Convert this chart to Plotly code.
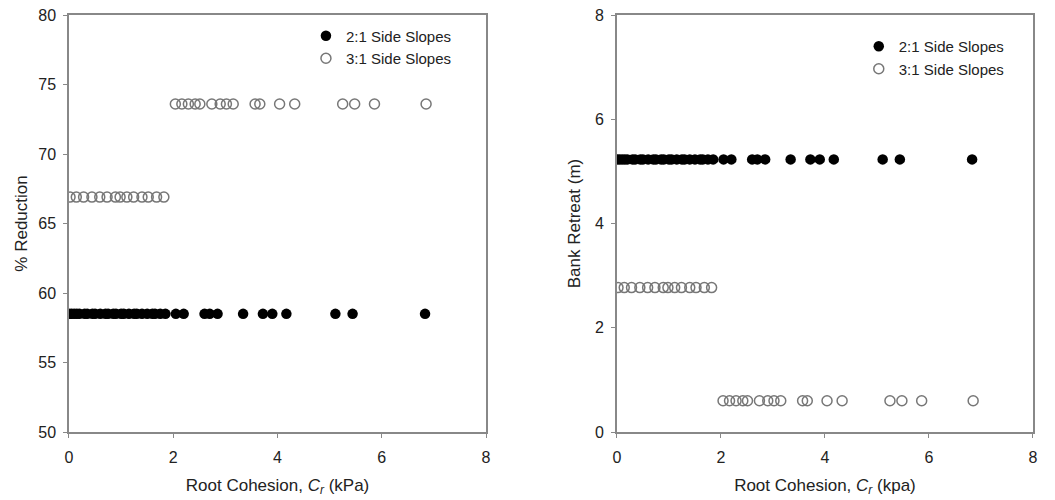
import plotly.graph_objects as go

# Root cohesion values (kPa) for each scenario run
cr_21 = [0, 0.05, 0.1, 0.15, 0.2, 0.3, 0.35, 0.45, 0.5, 0.6, 0.7, 0.75, 0.85,
         0.9, 1.0, 1.05, 1.15, 1.25, 1.3, 1.4, 1.5, 1.6, 1.65, 1.75, 1.85,
         2.05, 2.2, 2.6, 2.7, 2.85, 3.34, 3.72, 3.9, 4.17, 5.11, 5.44, 6.83]
cr_31 = [0.02, 0.14, 0.28, 0.44, 0.59, 0.73, 0.89, 0.98, 1.11, 1.24, 1.40,
         1.52, 1.68, 1.82,
         2.04, 2.165, 2.29, 2.42, 2.51, 2.74, 2.9, 3.02, 3.15, 3.57, 3.66,
         4.04, 4.33, 5.25, 5.48, 5.86, 6.85]

# % reduction in bank retreat
red_21 = [58.5] * len(cr_21)
red_31 = [66.9 if c < 1.95 else 73.6 for c in cr_31]

# Bank retreat (m)
ret_21 = [5.23] * len(cr_21)
ret_31 = [2.77 if c < 1.95 else 0.6 for c in cr_31]

x_ticks = [0, 2, 4, 6, 8]
y_ticks_red = [50, 55, 60, 65, 70, 75, 80]
y_ticks_ret = [0, 2, 4, 6, 8]

FONT = "Liberation Sans, Arial, sans-serif"
filled = dict(symbol="circle", size=10.5, color="black", line=dict(width=0))
hollow = dict(symbol="circle-open", size=10, color="#777777", line=dict(width=1.5))

fig = go.Figure()
fig.add_trace(go.Scatter(x=cr_21, y=red_21, mode="markers", marker=filled,
                         name="2:1 Side Slopes", xaxis="x", yaxis="y", legend="legend"))
fig.add_trace(go.Scatter(x=cr_31, y=red_31, mode="markers", marker=hollow,
                         name="3:1 Side Slopes", xaxis="x", yaxis="y", legend="legend"))
fig.add_trace(go.Scatter(x=cr_21, y=ret_21, mode="markers", marker=filled,
                         name="2:1 Side Slopes", xaxis="x2", yaxis="y2", legend="legend2"))
fig.add_trace(go.Scatter(x=cr_31, y=ret_31, mode="markers", marker=hollow,
                         name="3:1 Side Slopes", xaxis="x2", yaxis="y2", legend="legend2"))

axis_common = dict(showline=True, linecolor="#888888", linewidth=1.5, mirror=True,
                   ticks="outside", ticklen=4, tickcolor="#888888", showgrid=False,
                   zeroline=False, automargin=False,
                   tickfont=dict(family=FONT, size=16, color="#222222"))
title_font = dict(family=FONT, size=17, color="#222222")

fig.update_layout(
    width=1055, height=500, margin=dict(l=0, r=0, t=0, b=0),
    paper_bgcolor="white", plot_bgcolor="white",
    xaxis=dict(domain=[0.0654, 0.4607], range=[0, 8], tickvals=x_ticks,
               ticklabelstandoff=6,
               title=dict(text="Root Cohesion, <i>C<sub>r</sub></i> (kPa)", font=title_font, standoff=14),
               anchor="y", **axis_common),
    yaxis=dict(domain=[0.136, 0.97], range=[50, 80], tickvals=y_ticks_red,
               ticklabelstandoff=4,
               title=dict(text="% Reduction", font=title_font, standoff=6),
               anchor="x", **axis_common),
    xaxis2=dict(domain=[0.5848, 0.9791], range=[0, 8], tickvals=x_ticks,
                ticklabelstandoff=6,
                title=dict(text="Root Cohesion, <i>C<sub>r</sub></i> (kpa)", font=title_font, standoff=14),
                anchor="y2", **axis_common),
    yaxis2=dict(domain=[0.136, 0.97], range=[0, 8], tickvals=y_ticks_ret,
                ticklabelstandoff=4,
                title=dict(text="Bank Retreat (m)", font=title_font, standoff=10),
                anchor="x2", **axis_common),
    legend=dict(x=0.29, y=0.961, xanchor="left", yanchor="top", bgcolor="rgba(0,0,0,0)",
                font=dict(family=FONT, size=15, color="#222222"), itemwidth=30,
                tracegroupgap=0),
    legend2=dict(x=0.814, y=0.94, xanchor="left", yanchor="top", bgcolor="rgba(0,0,0,0)",
                 font=dict(family=FONT, size=15, color="#222222"), itemwidth=30,
                 tracegroupgap=0),
)

fig.write_html("out.html")
